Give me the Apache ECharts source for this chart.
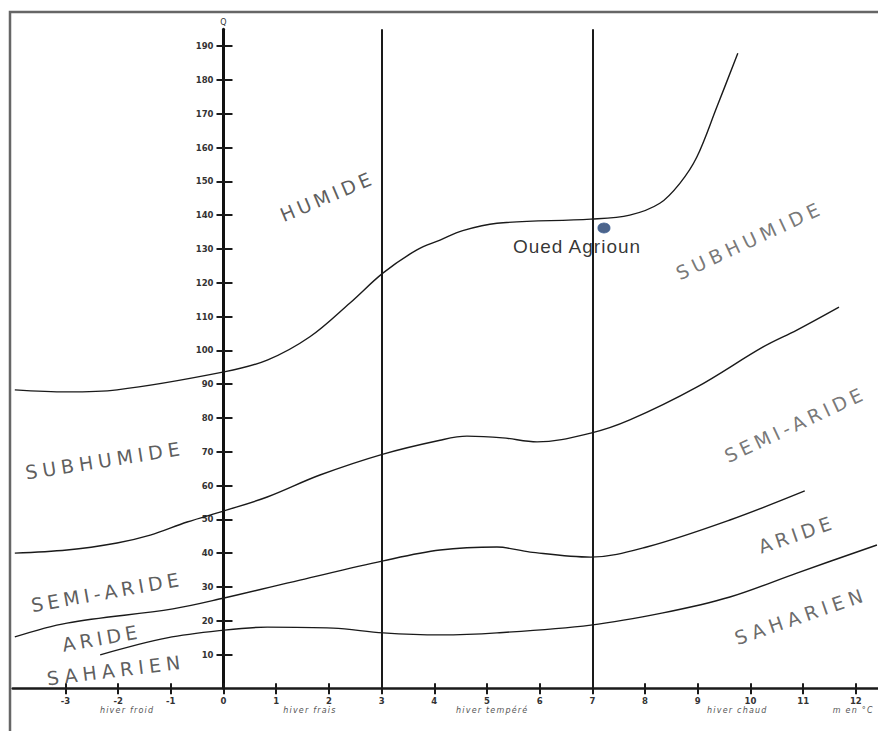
<!DOCTYPE html>
<html><head><meta charset="utf-8">
<script src="https://cdn.jsdelivr.net/npm/echarts@6/dist/echarts.min.js"></script>
<style>html,body{margin:0;padding:0;background:#fff}#chart{width:878px;height:731px}</style>
</head><body><div id="chart"></div>
<script>
// ---- data ----
const xTicks = [-3,-2,-1,0,1,2,3,4,5,6,7,8,9,10,11,12];
const yTicks = [10,20,30,40,50,60,70,80,90,100,110,120,130,140,150,160,170,180,190];
const winterLabels = ['hiver froid','hiver frais','hiver tempéré','hiver chaud','m en °C'];
const winterPos = [-1.83, 1.64, 5.1, 9.75, 11.95];
const winterLimits = [3, 7];

const curveHumide = [[-3.96,88.3],[-2.97,87.7],[-2.02,88.3],[0.01,93.6],[0.83,97.1],[1.64,104.0],[2.40,114.0],[3.03,122.9],[3.67,129.7],[4.11,132.6],[4.54,135.4],[5.19,137.6],[6.97,138.8],[7.71,140.0],[8.28,143.5],[8.66,149.4],[8.98,157.1],[9.36,171.9],[9.76,187.9]];
const curveSubhumide = [[-3.96,40.0],[-2.97,40.9],[-2.02,43.0],[-1.39,45.3],[-0.69,49.2],[0.01,52.5],[0.83,56.6],[1.83,63.1],[3.03,69.3],[4.11,73.4],[4.62,74.6],[5.30,74.1],[5.95,72.9],[6.97,75.5],[7.71,79.4],[8.98,89.1],[10.24,101.0],[10.88,106.0],[11.68,112.8]];
const curveSemiAride = [[-3.96,15.2],[-2.97,19.3],[-0.96,23.5],[0.01,26.7],[1.45,32.0],[3.03,37.7],[4.11,40.9],[5.19,41.8],[5.82,40.3],[6.97,38.8],[8.03,41.8],[9.61,49.8],[11.03,58.4]];
const curveAride = [[-2.34,9.9],[-1.07,14.9],[0.01,17.2],[0.83,18.1],[2.08,17.8],[3.03,16.4],[4.11,15.8],[5.19,16.4],[6.97,18.7],[8.34,22.3],[9.61,27.0],[10.88,34.1],[12.40,42.4]];

const zoneNames = ['HUMIDE','SUBHUMIDE','SUBHUMIDE','SEMI-ARIDE','ARIDE','SAHARIEN','SEMI-ARIDE','ARIDE','SAHARIEN'];
const zoneM = [1.97, 9.99, -2.25, -2.21, -2.31, -2.04, 10.85, 10.88, 10.96];
const zoneQ = [145.6, 132.6, 67.5, 28.5, 14.9, 5.4, 78.1, 45.6, 21.4];

const stationName = 'Oued Agrioun';
const stationM = 7.22;
const stationQ = 136.2;

// ---- styles / layout ----
const X_MIN = -4, X_MAX = 12.42, Y_MIN = 0, Y_MAX = 195;
const GRID = {left:12.7, right:0, top:29.2, bottom:42.7};
const PLOT_W = 878 - GRID.left - GRID.right;
const yAxisOffset = -PLOT_W * (0 - X_MIN) / (X_MAX - X_MIN); // put the y axis at m = 0

const zoneRotate = [23, 25, 9, 10, 10, 7, 25, 19, 19];
const zoneColor = ['#333','#555','#333','#333','#333','#333','#555','#444','#444'];
const spacingMap = {'HUMIDE':4,'SUBHUMIDE':5,'SEMI-ARIDE':4.3,'ARIDE':4.3,'SAHARIEN':5.2,'Oued Agrioun':1,
  'hiver froid':1.2,'hiver frais':1.2,'hiver tempéré':1.2,'hiver chaud':1.2,'m en °C':1.2};

const tickFont = {fontFamily:'DejaVu Sans', fontSize:8.5, fontWeight:'bold', color:'#333'};
const curveStyle = {color:'#1a1a1a', width:1.4};

function curve(data){
  return {type:'line', data:data, showSymbol:false, smooth:0.35, silent:true, lineStyle:curveStyle, z:3};
}

const chart = echarts.init(document.getElementById('chart'), null, {renderer:'svg'});
chart.setOption({
  animation:false,
  backgroundColor:'#fff',
  grid:Object.assign({outerBoundsMode:'none', containLabel:false}, GRID),
  xAxis:[
    {type:'value', min:X_MIN, max:X_MAX, position:'bottom',
     axisLine:{onZero:false, lineStyle:{color:'#1a1a1a', width:2.5}},
     axisTick:{customValues:xTicks, length:6, lineStyle:{color:'#1a1a1a', width:2}},
     axisLabel:{customValues:xTicks, margin:8, ...tickFont},
     splitLine:{show:false}},
    {type:'value', min:X_MIN, max:X_MAX, position:'bottom',
     axisLine:{show:false, onZero:false},
     axisTick:{customValues:xTicks, inside:true, length:5, lineStyle:{color:'#1a1a1a', width:2}},
     axisLabel:{customValues:winterPos, margin:18, fontFamily:'DejaVu Sans', fontSize:8, fontStyle:'italic', color:'#555',
       formatter:function(v){ const i = winterPos.findIndex(p=>Math.abs(p-v)<1e-6); return i>=0 ? winterLabels[i] : ''; }},
     splitLine:{show:false}}
  ],
  yAxis:[
    {type:'value', min:Y_MIN, max:Y_MAX, position:'left', offset:yAxisOffset,
     name:'Q', nameLocation:'end', nameGap:3,
     nameTextStyle:{fontFamily:'DejaVu Sans', fontSize:8, color:'#333'},
     axisLine:{onZero:false, lineStyle:{color:'#111', width:3}},
     axisTick:{customValues:yTicks, length:7, lineStyle:{color:'#1a1a1a', width:2}},
     axisLabel:{customValues:yTicks, margin:10, ...tickFont},
     splitLine:{show:false}},
    {type:'value', min:Y_MIN, max:Y_MAX, position:'left', offset:yAxisOffset,
     axisLine:{show:false, onZero:false},
     axisTick:{customValues:yTicks, inside:true, length:9, lineStyle:{color:'#1a1a1a', width:2}},
     axisLabel:{show:false},
     splitLine:{show:false}}
  ],
  graphic:[{type:'polyline', silent:true, shape:{points:[[10,731],[10,12],[878,12]]}, style:{stroke:'#666', lineWidth:2.5, fill:null}}],
  series:[
    Object.assign(curve(curveHumide), {
      markLine:{silent:true, symbol:['none','none'], label:{show:false},
        lineStyle:{type:'solid', color:'#1a1a1a', width:2},
        data: winterLimits.map(v=>({xAxis:v}))}
    }),
    curve(curveSubhumide),
    curve(curveSemiAride),
    curve(curveAride),
    {type:'scatter', silent:true, symbolSize:0, itemStyle:{color:'transparent'}, z:4,
     data: zoneNames.map((n,i)=>({name:n, value:[zoneM[i], zoneQ[i]],
       label:{show:true, position:'inside', formatter:'{b}', rotate:zoneRotate[i], color:zoneColor[i],
         fontFamily:'DejaVu Sans', fontSize:19, align:'center', verticalAlign:'middle'}}))},
    {type:'scatter', silent:true, symbol:'circle', symbolSize:[12,10], z:5,
     itemStyle:{color:'#1f3d6e', borderColor:'#3d5f92', borderWidth:1},
     data:[{name:stationName, value:[stationM, stationQ]}],
     label:{show:true, position:'bottom', distance:4, offset:[-27,0], formatter:'{b}',
       fontFamily:'Liberation Sans', fontSize:19, color:'#000'}}
  ]
});

function applySpacing(){
  document.querySelectorAll('#chart text').forEach(t=>{
    const s = spacingMap[t.textContent.trim()];
    if (s != null) t.style.letterSpacing = s + 'px';
  });
}
applySpacing();
chart.on('finished', applySpacing);
</script></body></html>
